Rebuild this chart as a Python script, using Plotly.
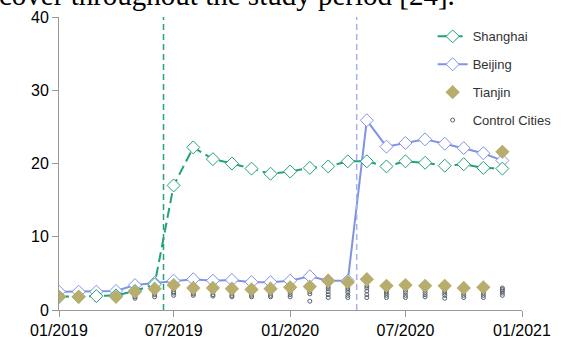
import plotly.graph_objects as go
import pandas as pd

months = pd.date_range("2019-01-01", "2020-12-01", freq="MS").strftime("%Y-%m-%d").tolist()

shanghai = [1.8, 1.8, 1.9, 2.0, 2.6, 3.5, 17.0, 22.2, 20.6, 20.0, 19.3, 18.6,
            18.9, 19.4, 19.6, 20.3, 20.3, 19.6, 20.3, 20.1, 19.7, 19.9, 19.4, 19.3]
beijing = [2.5, 2.5, 2.5, 2.6, 3.4, 3.7, 4.0, 4.2, 4.0, 4.1, 3.8, 3.8,
           4.0, 4.6, 4.0, 4.0, 25.9, 22.3, 22.8, 23.3, 22.7, 22.1, 21.4, 20.4]
tianjin = [1.8, 1.8, None, 1.8, 2.5, 2.9, 3.4, 3.0, 3.0, 2.9, 2.8, 2.9,
           3.1, 3.2, 4.0, 3.8, 4.2, 3.3, 3.4, 3.3, 3.3, 3.0, 3.1, 21.6]
control_a = [1.5, 1.3, 1.4, 1.5, 1.6, 1.8, 2.0, 2.0, 1.9, 1.8, 1.8, 1.8,
             1.8, 1.2, 1.7, 1.7, 1.7, 1.7, 1.7, 1.8, 1.6, 1.7, 1.7, 2.0]
control_b = [1.6, 1.4, 1.5, 1.6, 1.8, 2.1, 2.3, 2.2, 2.1, 2.0, 2.0, 2.0,
             2.1, 2.2, 2.1, 2.0, 2.1, 2.0, 2.0, 2.1, 2.0, 2.0, 2.0, 2.3]
control_c = [1.7, 1.5, 1.6, 1.7, 2.0, 2.3, 2.5, 2.4, 2.4, 2.3, 2.2, 2.3,
             2.4, 2.5, 2.5, 2.4, 2.6, 2.3, 2.4, 2.4, 2.3, 2.3, 2.3, 2.6]
control_d = [1.8, 1.6, 1.7, 1.8, 2.2, 2.6, 2.8, 2.7, 2.6, 2.5, 2.4, 2.5,
             2.6, 2.7, 2.9, 2.7, 3.0, 2.6, 2.7, 2.7, 2.6, 2.6, 2.6, 2.8]
control_e = [1.9, 1.7, 1.8, 1.9, 2.4, 2.8, 3.0, 2.9, 2.8, 2.7, 2.6, 2.7,
             2.8, 2.8, 3.2, 3.0, 3.3, 2.8, 2.9, 2.9, 2.8, 2.8, 2.8, 3.0]
controls = [control_a, control_b, control_c, control_d, control_e]

shanghai_policy = "2019-06-15"
beijing_policy = "2020-04-15"

x_ticks = ["2019-01-01", "2019-07-01", "2020-01-01", "2020-07-01", "2021-01-01"]
x_tick_labels = ["01/2019", "07/2019", "01/2020", "07/2020", "01/2021"]
y_ticks = [0, 10, 20, 30, 40]

c_sh = "#23a07c"
c_bj = "#7f93e8"
c_tj = "#b7ad6c"
c_ctrl = "#56606a"

fig = go.Figure()

ctrl_x = [m for _ in controls for m in months]
ctrl_y = [v for c in controls for v in c]
fig.add_trace(go.Scatter(x=ctrl_x, y=ctrl_y, mode="markers", name="Control Cities",
                         marker=dict(symbol="circle-open", size=4, color=c_ctrl, line=dict(width=1)),
                         legendrank=4, legendgroup="d"))
fig.add_trace(go.Scatter(x=months, y=beijing, mode="lines+markers", name="Beijing",
                         line=dict(color=c_bj, width=2),
                         marker=dict(symbol="diamond", size=10, color="white", line=dict(color=c_bj, width=1)),
                         legendrank=2, legendgroup="b"))
fig.add_trace(go.Scatter(x=months, y=shanghai, mode="lines+markers", name="Shanghai",
                         line=dict(color=c_sh, width=2, dash="10px,5px"),
                         marker=dict(symbol="diamond", size=10, color="white", line=dict(color=c_sh, width=1)),
                         legendrank=1, legendgroup="a"))
fig.add_trace(go.Scatter(x=months, y=tianjin, mode="markers", name="Tianjin",
                         marker=dict(symbol="diamond", size=11, color=c_tj),
                         legendrank=3, legendgroup="c"))

fig.add_shape(type="line", xref="x", yref="paper", x0=shanghai_policy, x1=shanghai_policy, y0=0, y1=1,
              line=dict(color=c_sh, width=1.5, dash="6px,4px"))
fig.add_shape(type="line", xref="x", yref="paper", x0=beijing_policy, x1=beijing_policy, y0=0, y1=1,
              line=dict(color="#a3b3ea", width=1.5, dash="6px,4px"))

fig.add_annotation(text="cover throughout the study period [24].", xref="paper", yref="paper",
                   x=-0.1274, y=1, xanchor="left", yanchor="bottom", xshift=-3, yshift=4,
                   showarrow=False, font=dict(family="Liberation Serif", size=29, color="black"))

fig.update_layout(
    template="none",
    width=561, height=338,
    autosize=False,
    margin=dict(l=59, r=39, t=17, b=28, autoexpand=False),
    plot_bgcolor="white", paper_bgcolor="white",
    font=dict(family="Liberation Sans", color="#222"),
    legend=dict(x=0.807, y=0.985, xanchor="left", yanchor="top", bgcolor="rgba(0,0,0,0)",
                font=dict(size=13, color="#333"), traceorder="grouped", tracegroupgap=8),
    xaxis=dict(range=["2019-01-01", "2021-01-01"], tickvals=x_ticks, ticktext=x_tick_labels,
               automargin=False,
               showgrid=False, zeroline=False, showline=True, linecolor="#999", linewidth=1,
               ticks="outside", ticklen=6, tickcolor="#999", tickfont=dict(size=16, color="black")),
    yaxis=dict(range=[0, 40], tickvals=y_ticks, showgrid=False, zeroline=False, automargin=False,
               showline=True, linecolor="#999", linewidth=1,
               ticks="outside", ticklen=6, tickcolor="#999", tickfont=dict(size=16, color="black")),
)

fig.write_html("out.html", config={"displayModeBar": False},
               post_script="document.body.style.margin='0';document.body.style.overflow='hidden';")
